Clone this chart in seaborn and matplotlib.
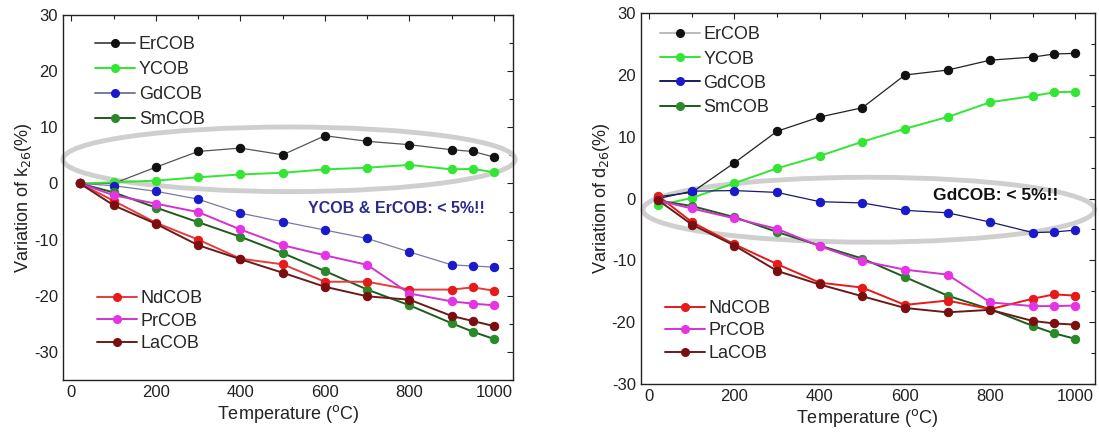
import numpy as np
import pandas as pd
import seaborn as sns
import matplotlib.pyplot as plt
from matplotlib.patches import Ellipse

# Data
temps = [20, 100, 200, 300, 400, 500, 600, 700, 800, 900, 950, 1000]
crystals = ["ErCOB", "YCOB", "GdCOB", "SmCOB", "NdCOB", "PrCOB", "LaCOB"]

# variation of k26 (%)
k26_ErCOB = [0, 0.0, 2.9, 5.7, 6.3, 5.1, 8.5, 7.5, 6.9, 6.0, 5.7, 4.7]
k26_YCOB = [0, 0.2, 0.5, 1.1, 1.6, 1.9, 2.5, 2.8, 3.3, 2.5, 2.6, 2.0]
k26_GdCOB = [0, -0.4, -1.4, -2.8, -5.3, -6.8, -8.3, -9.8, -12.2, -14.5, -14.7, -14.9]
k26_SmCOB = [0, -1.6, -4.3, -6.9, -9.5, -12.4, -15.6, -18.9, -21.7, -24.9, -26.4, -27.7]
k26_NdCOB = [0, -3.1, -7.0, -10.0, -13.4, -14.4, -17.5, -17.5, -18.9, -18.9, -18.5, -19.1]
k26_PrCOB = [0, -2.1, -3.6, -5.1, -8.2, -11.0, -12.8, -14.5, -19.6, -21.0, -21.4, -21.7]
k26_LaCOB = [0, -3.9, -7.2, -11.0, -13.5, -15.9, -18.4, -20.1, -20.7, -23.6, -24.5, -25.4]

# variation of d26 (%)
d26_ErCOB = [0.3, 1.0, 5.8, 10.9, 13.2, 14.7, 20.0, 20.8, 22.4, 22.9, 23.4, 23.5]
d26_YCOB = [-1.1, 0.1, 2.5, 4.9, 6.9, 9.2, 11.3, 13.2, 15.6, 16.6, 17.2, 17.3]
d26_GdCOB = [0.0, 1.2, 1.3, 1.0, -0.5, -0.7, -1.9, -2.3, -3.8, -5.5, -5.4, -5.1]
d26_SmCOB = [-0.3, -1.2, -3.0, -5.4, -7.6, -9.7, -12.7, -15.7, -17.9, -20.6, -21.8, -22.7]
d26_NdCOB = [0.5, -3.8, -7.4, -10.6, -13.6, -14.4, -17.2, -16.5, -17.9, -16.2, -15.5, -15.7]
d26_PrCOB = [-0.3, -1.6, -3.2, -4.9, -7.7, -10.1, -11.5, -12.3, -16.8, -17.4, -17.4, -17.3]
d26_LaCOB = [-0.2, -4.2, -7.6, -11.7, -13.9, -15.8, -17.7, -18.4, -18.0, -19.8, -20.2, -20.4]

k26 = [k26_ErCOB, k26_YCOB, k26_GdCOB, k26_SmCOB, k26_NdCOB, k26_PrCOB, k26_LaCOB]
d26 = [d26_ErCOB, d26_YCOB, d26_GdCOB, d26_SmCOB, d26_NdCOB, d26_PrCOB, d26_LaCOB]

marker_colors = ["#111111", "#33e633", "#1a1acc", "#2a8a2a", "#e61a1a", "#e633e6", "#7a0f0f"]
left_line_colors = ["#555555", "#33e633", "#7a7aa0", "#1f5a1f", "#e63c3c", "#d133d1", "#6b1a1a"]
right_line_colors = ["#222222", "#33e633", "#1a1a66", "#1f5a1f", "#e61a1a", "#d133d1", "#6b1a1a"]
legend_line_right = ["#bbbbbb", "#33e633", "#1a1a66", "#1f5a1f", "#e61a1a", "#d133d1", "#6b1a1a"]


def to_long(values):
    rows = []
    for name, ys in zip(crystals, values):
        for t, v in zip(temps, ys):
            rows.append({"T": t, "val": v, "crystal": name})
    return pd.DataFrame(rows)


sns.set_style("white")
plt.rcParams["font.family"] = ["Liberation Sans", "DejaVu Sans"]
plt.rcParams["font.size"] = 12
plt.rcParams["axes.unicode_minus"] = False

fig = plt.figure(figsize=(10.99, 4.43), dpi=100)
ax1 = fig.add_axes([0.0573, 0.1422, 0.4095, 0.8240])
ax2 = fig.add_axes([0.5830, 0.1332, 0.4130, 0.8370])


def draw_panel(ax, values, line_colors, leg_colors, ylim, ylabel, ell,
               note, note_color, note_xy, note_size, leg_top, leg_bottom):
    ax.add_patch(Ellipse(ell[0], ell[1], ell[2], facecolor="none",
                         edgecolor="#cfcfcf", linewidth=3.5, zorder=1, clip_on=False))
    df = to_long(values)
    for i, name in enumerate(crystals):
        sub = df[df["crystal"] == name]
        lw = 0.9 if name in ("ErCOB", "GdCOB") else 1.4
        sns.lineplot(data=sub, x="T", y="val", ax=ax, color=line_colors[i],
                     linewidth=lw, marker="o", markersize=6,
                     markerfacecolor=marker_colors[i], markeredgecolor=marker_colors[i],
                     zorder=3, legend=False)

    handles = []
    for i, name in enumerate(crystals):
        h, = ax.plot([], [], color=leg_colors[i], lw=1.4, marker="o", markersize=5.5,
                     markerfacecolor=marker_colors[i], markeredgecolor=marker_colors[i],
                     label=name)
        handles.append(h)
    leg1 = ax.legend(handles=handles[:4], loc="upper left", frameon=False,
                     fontsize=13, handlelength=2.2, handletextpad=0.2,
                     labelspacing=leg_top[2], borderaxespad=0,
                     bbox_to_anchor=(leg_top[0], leg_top[1]))
    ax.add_artist(leg1)
    ax.legend(handles=handles[4:], loc="upper left", frameon=False,
              fontsize=13, handlelength=2.2, handletextpad=0.2,
              labelspacing=leg_bottom[2], borderaxespad=0,
              bbox_to_anchor=(leg_bottom[0], leg_bottom[1]))

    ax.text(note_xy[0], note_xy[1], note, color=note_color, fontsize=note_size,
            fontweight="bold", ha="left", va="center")

    ax.set_xticks([0, 200, 400, 600, 800, 1000])
    ax.set_xticks(range(100, 1001, 200), minor=True)
    ax.set_yticks(range(-30, 31, 10))
    ax.set_yticks(range(-35, 31, 5), minor=True)
    ax.set_xlim(-20, 1045)
    ax.set_ylim(*ylim)
    ax.tick_params(which="both", direction="in", top=True, right=True,
                   labelsize=12, colors="#222222", length=4, width=0.8)
    ax.tick_params(which="minor", length=3)
    ax.set_xlabel("Temperature ($^{\\rm o}$C)", fontsize=13, color="#222222", labelpad=2)
    ax.set_ylabel(ylabel, fontsize=13, color="#222222", labelpad=0)
    for s in ax.spines.values():
        s.set_color("#222222")
        s.set_linewidth(1.0)


draw_panel(ax1, k26, left_line_colors, left_line_colors, (-35, 30),
           "Variation of k$_{26}$(%)",
           ((515, 4.3), 1070, 11.5), "YCOB & ErCOB: < 5%!!", "#2b2b8c", (560, -4.4), 11.5,
           (0.056, 0.962, 0.45), (0.06, 0.266, 0.3))
draw_panel(ax2, d26, right_line_colors, legend_line_right, (-30, 30),
           "Variation of d$_{26}$(%)",
           ((515, -1.8), 1060, 10.5), "GdCOB: < 5%!!", "#111111", (665, 0.5), 12.5,
           (0.027, 0.984, 0.4), (0.038, 0.246, 0.3))

fig.savefig("out.png", dpi=100)
